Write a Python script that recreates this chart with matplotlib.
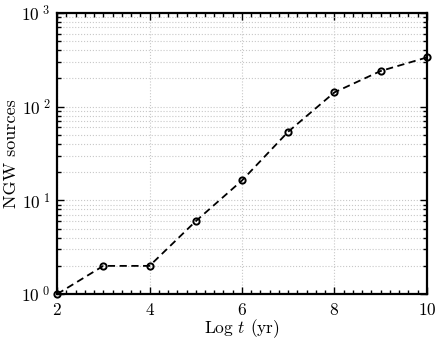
import matplotlib
matplotlib.use("Agg")
import matplotlib.pyplot as plt
from matplotlib.ticker import MultipleLocator, LogLocator, NullFormatter

# values
log_t = [2, 3, 4, 5, 6, 7, 8, 9, 10]
n_sources = [1, 2, 2, 6, 16.3, 54, 142, 240, 335]
y_ticks = [1, 10, 100, 1000]
y_ticklabels = [r"$10^{\;0}$", r"$10^{\;1}$", r"$10^{\;2}$", r"$10^{\;3}$"]

plt.rcParams["font.family"] = "serif"
plt.rcParams["font.serif"] = ["cmr10", "DejaVu Serif"]
plt.rcParams["mathtext.fontset"] = "cm"
plt.rcParams["axes.formatter.use_mathtext"] = True

fig = plt.figure(figsize=(4.36, 3.40), dpi=100)
ax = fig.add_axes([0.131, 0.135, 0.848, 0.827])

ax.plot(log_t, n_sources, "--", color="black", lw=1.3, dashes=(4, 2.5),
        marker="o", ms=4.5, mfc="none", mec="black", mew=1.4, clip_on=False, zorder=3)

ax.set_yscale("log")
ax.set_xlim(2, 10)
ax.set_ylim(1, 1000)
ax.xaxis.set_major_locator(MultipleLocator(2))
ax.xaxis.set_minor_locator(MultipleLocator(0.2))
ax.yaxis.set_minor_locator(LogLocator(base=10, subs=range(2, 10), numticks=10))
ax.yaxis.set_minor_formatter(NullFormatter())
ax.set_yticks(y_ticks)
ax.set_yticklabels(y_ticklabels)

ax.grid(True, which="major", axis="x", ls=":", color="#c8c8c8", lw=0.8)
ax.grid(True, which="both", axis="y", ls=":", color="#c8c8c8", lw=0.8)

ax.tick_params(which="both", direction="in", top=True, right=True,
               labelsize=12.5, width=1.0)
ax.tick_params(axis="x", pad=6)
ax.tick_params(axis="y", pad=5)
ax.tick_params(which="major", length=5)
ax.tick_params(which="minor", length=3)
for sp in ax.spines.values():
    sp.set_linewidth(1.6)

ax.set_xlabel(r"Log $t$ (yr)", fontsize=12.5, labelpad=-1)
ax.set_ylabel("NGW sources", fontsize=13, labelpad=2)

fig.savefig("out.png", dpi=100)
